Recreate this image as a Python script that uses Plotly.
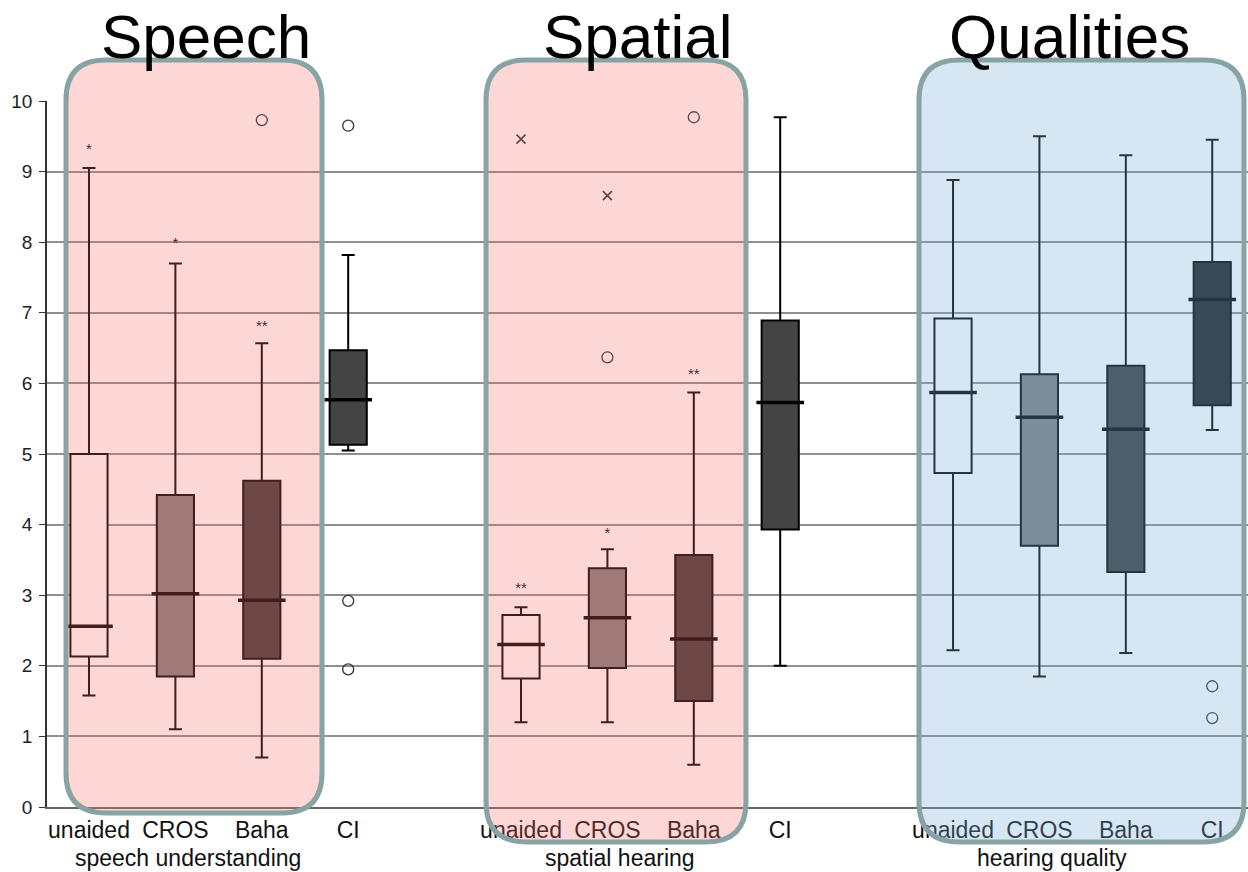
import plotly.graph_objects as go

# ---------------- data ----------------
categories = ["unaided", "CROS", "Baha", "CI"]
group_labels = ["speech understanding", "spatial hearing", "hearing quality"]
group_titles = ["Speech", "Spatial", "Qualities"]
y_ticks = [0, 1, 2, 3, 4, 5, 6, 7, 8, 9, 10]

lower_speech = [1.58, 1.10, 0.70, 5.05]
q1_speech = [2.13, 1.85, 2.10, 5.13]
median_speech = [2.56, 3.02, 2.93, 5.77]
q3_speech = [5.00, 4.42, 4.62, 6.47]
upper_speech = [9.05, 7.70, 6.57, 7.82]

lower_spatial = [1.20, 1.20, 0.60, 2.00]
q1_spatial = [1.82, 1.97, 1.50, 3.93]
median_spatial = [2.30, 2.68, 2.38, 5.73]
q3_spatial = [2.72, 3.38, 3.57, 6.89]
upper_spatial = [2.83, 3.65, 5.87, 9.77]

lower_quality = [2.22, 1.85, 2.18, 5.34]
q1_quality = [4.73, 3.70, 3.33, 5.69]
median_quality = [5.87, 5.52, 5.35, 7.19]
q3_quality = [6.92, 6.13, 6.25, 7.72]
upper_quality = [8.88, 9.50, 9.23, 9.45]

# outliers: (group index, category index, value)
circle_outliers = [(0, 2, 9.73), (0, 3, 9.65), (0, 3, 2.92), (0, 3, 1.95),
                   (1, 1, 6.37), (1, 2, 9.77), (2, 3, 1.71), (2, 3, 1.26)]
extreme_outliers = [(0, 0, 9.30, "*"), (0, 1, 7.97, "*"), (0, 2, 6.80, "**"),
                    (1, 0, 3.08, "**"), (1, 1, 3.86, "*"), (1, 2, 6.12, "**")]
cross_outliers = [(1, 0, 9.46), (1, 1, 8.66)]

stats = [
    (lower_speech, q1_speech, median_speech, q3_speech, upper_speech),
    (lower_spatial, q1_spatial, median_spatial, q3_spatial, upper_spatial),
    (lower_quality, q1_quality, median_quality, q3_quality, upper_quality),
]

# ---------------- style ----------------
box_fill = [
    ["#ffffff", "#808080", "#3c3c3c", "#444444"],
    ["#ffffff", "#808080", "#3c3c3c", "#444444"],
    ["#ffffff", "#808080", "#3c3c3c", "#1e1e1e"],
]
FONT = "Liberation Sans, Arial, sans-serif"
GROUP_STEP = 5


def pos(g, c):
    return g * GROUP_STEP + c


fig = go.Figure()

all_pos, all_text = [], []
med_x, med_y = [], []
for g, (lo, q1, med, q3, up) in enumerate(stats):
    for c, cat in enumerate(categories):
        p = pos(g, c)
        all_pos.append(p)
        all_text.append(cat)
        fig.add_trace(go.Box(
            x=[p], lowerfence=[lo[c]], q1=[q1[c]], median=[med[c]],
            q3=[q3[c]], upperfence=[up[c]],
            width=0.43, whiskerwidth=0.35,
            fillcolor=box_fill[g][c], line=dict(color="#000000", width=2),
            boxpoints=False, showlegend=False, hoverinfo="skip"))
        med_x.append(p)
        med_y.append(med[c])

# thicker median lines
fig.add_trace(go.Scatter(
    x=med_x, y=med_y, mode="markers", showlegend=False, hoverinfo="skip",
    marker=dict(symbol="line-ew-open", size=34, color="#000000",
                line=dict(color="#000000", width=3.5))))

fig.add_trace(go.Scatter(
    x=[pos(g, c) for g, c, v in circle_outliers],
    y=[v for g, c, v in circle_outliers],
    mode="markers", showlegend=False, hoverinfo="skip",
    marker=dict(symbol="circle-open", size=11, color="#333333",
                line=dict(color="#333333", width=1.3))))

fig.add_trace(go.Scatter(
    x=[pos(g, c) for g, c, v in cross_outliers],
    y=[v for g, c, v in cross_outliers],
    mode="markers", showlegend=False, hoverinfo="skip",
    marker=dict(symbol="x-thin-open", size=9, color="#333333",
                line=dict(color="#333333", width=1.6))))

fig.add_trace(go.Scatter(
    x=[pos(g, c) for g, c, v, t in extreme_outliers],
    y=[v for g, c, v, t in extreme_outliers],
    text=[t for g, c, v, t in extreme_outliers],
    mode="text", textposition="middle center", showlegend=False,
    hoverinfo="skip",
    textfont=dict(family=FONT, size=15, color="#111111")))

# ---------------- layout geometry (pixels) ----------------
W, H = 1248, 872
PL, PR, PT, PB = 47, 1248, 101, 807


def px2paper(x, y):
    return (x - PL) / (PR - PL), (PB - y) / (PB - PT)


def rounded_rect(x0, y0, x1, y1, r):
    pts = [
        ("M", [(x0 + r, y0)]),
        ("L", [(x1 - r, y0)]),
        ("Q", [(x1, y0), (x1, y0 + r)]),
        ("L", [(x1, y1 - r)]),
        ("Q", [(x1, y1), (x1 - r, y1)]),
        ("L", [(x0 + r, y1)]),
        ("Q", [(x0, y1), (x0, y1 - r)]),
        ("L", [(x0, y0 + r)]),
        ("Q", [(x0, y0), (x0 + r, y0)]),
    ]
    out = ""
    for cmd, ps in pts:
        coords = []
        for (x, y) in ps:
            a, b = px2paper(x, y)
            coords.append(f"{a:.5f},{b:.5f}")
        out += cmd + " " + " ".join(coords) + " "
    return out + "Z"


overlays = [
    (66, 60, 322, 813, "rgba(248,104,104,0.27)"),
    (486, 60, 746, 842, "rgba(248,104,104,0.27)"),
    (919, 60, 1244, 842, "rgba(118,172,212,0.30)"),
]
shapes = []
for x0, y0, x1, y1, col in overlays:
    shapes.append(dict(type="path", xref="paper", yref="paper", layer="above",
                       path=rounded_rect(x0, y0, x1, y1, 40),
                       fillcolor=col, line=dict(color="#87a3a4", width=5)))

annotations = []
for g, title in enumerate(group_titles):
    center = (pos(g, 0) + pos(g, 3)) / 2
    annotations.append(dict(x=center - 0.15, xref="x", y=(PB - 36) / (PB - PT),
                            yref="paper", text=title, showarrow=False,
                            xanchor="center", yanchor="middle",
                            font=dict(family=FONT, size=62, color="#000000")))
    annotations.append(dict(x=center - 0.35, xref="x",
                            y=(PB - 858) / (PB - PT), yref="paper",
                            text=group_labels[g], showarrow=False,
                            xanchor="center", yanchor="middle",
                            font=dict(family=FONT, size=23, color="#111111")))

fig.update_layout(
    width=W, height=H,
    margin=dict(l=PL, r=W - PR, t=PT, b=H - PB, pad=0),
    paper_bgcolor="white", plot_bgcolor="white",
    shapes=shapes, annotations=annotations,
    xaxis=dict(range=[-0.486, 13.414], tickvals=all_pos, ticktext=all_text,
               showgrid=False, zeroline=False, showline=True,
               linecolor="#666666", linewidth=1.5, ticks="",
               ticklabelstandoff=2,
               tickfont=dict(family=FONT, size=23, color="#111111")),
    yaxis=dict(range=[0, 10], tickvals=y_ticks, showgrid=True,
               gridcolor="#8f8f8f", gridwidth=1.5, zeroline=False,
               showline=True, linecolor="#333333", linewidth=1.5,
               ticks="outside", ticklen=6, tickcolor="#333333",
               ticklabelstandoff=3,
               tickfont=dict(family=FONT, size=19, color="#222222")),
    font=dict(family=FONT),
)

fig.write_html("out.html")
